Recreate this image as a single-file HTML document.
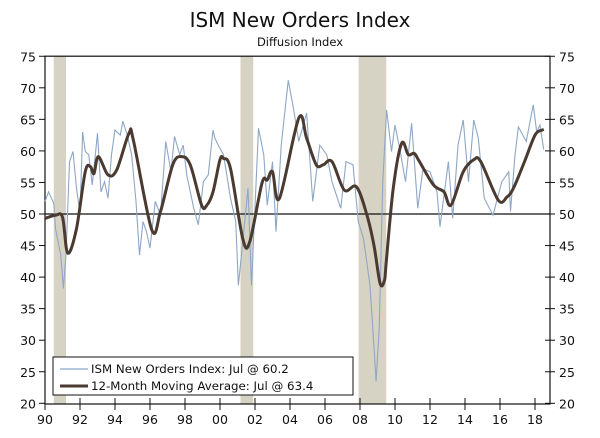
<!DOCTYPE html>
<html><head><meta charset="utf-8"><style>
body{margin:0;background:#fff;}
svg text{font-family:"DejaVu Sans","Liberation Sans",sans-serif;fill:#111;}
</style></head><body>
<svg id="chart" width="600" height="433" viewBox="0 0 600 433" xmlns="http://www.w3.org/2000/svg">
<text x="300" y="27" text-anchor="middle" style="font-size:20px">ISM New Orders Index</text>
<text x="300" y="46" text-anchor="middle" style="font-size:11.5px">Diffusion Index</text>
<g id="rec"></g>
<g id="grid"></g>
<g id="series"></g>
<g>
<rect x="53" y="357" width="300" height="38" fill="#fff" stroke="#111" stroke-width="1"/>
<line x1="60" y1="369" x2="88" y2="369" stroke="#8ea7c6" stroke-width="1.2"/>
<text x="91" y="373" style="font-size:11.8px">ISM New Orders Index: Jul @ 60.2</text>
<line x1="60" y1="386" x2="88" y2="386" stroke="#4a3a30" stroke-width="3"/>
<text x="91" y="390" style="font-size:11.8px">12-Month Moving Average: Jul @ 63.4</text>
</g>
</svg>
<script>
const recStarts=[1990.5,2001.17,2007.92];
const recEnds=[1991.2,2001.9,2009.5];
const yTicks=[20,25,30,35,40,45,50,55,60,65,70,75];
const xTickYears=[1990,1992,1994,1996,1998,2000,2002,2004,2006,2008,2010,2012,2014,2016,2018];
const xTickLabels=["90","92","94","96","98","00","02","04","06","08","10","12","14","16","18"];
const rawDates=[1990.0,1990.2,1990.5,1990.6,1990.9,1991.05,1991.2,1991.4,1991.6,1991.8,1992.0,1992.15,1992.3,1992.5,1992.7,1993.0,1993.2,1993.4,1993.6,1993.8,1994.0,1994.3,1994.45,1994.7,1994.95,1995.2,1995.4,1995.6,1995.8,1996.0,1996.3,1996.6,1996.9,1997.2,1997.4,1997.7,1997.9,1998.1,1998.5,1998.76,1999.05,1999.33,1999.6,1999.71,1999.9,2000.2,2000.6,2000.9,2001.05,2001.3,2001.6,2001.8,2002.2,2002.5,2002.7,2003.0,2003.2,2003.5,2003.9,2004.2,2004.5,2004.95,2005.3,2005.7,2006.1,2006.4,2006.9,2007.2,2007.6,2007.9,2008.2,2008.57,2008.75,2008.92,2009.1,2009.3,2009.52,2009.8,2010.0,2010.3,2010.6,2010.95,2011.3,2011.6,2012.0,2012.4,2012.57,2013.05,2013.3,2013.6,2013.9,2014.2,2014.5,2014.76,2015.1,2015.6,2016.1,2016.5,2016.6,2016.86,2017.05,2017.5,2017.9,2018.1,2018.28,2018.5];
const rawValues=[52,53.5,51.7,47.7,43.5,38.2,43.5,58.3,59.9,54.1,50,63,59.9,59.4,54.6,62.8,53.5,55.1,52.5,59.4,63.3,62.5,64.7,62.5,59.4,52,43.5,48.8,47.2,44.6,52,49.8,61.5,56.7,62.3,59.4,60.9,56.2,50.9,48.3,55.1,56.2,63.3,62,60.9,59.4,52.5,48.8,38.7,45.6,54.1,38.7,63.6,59.4,51.4,58.3,47.2,60.9,71.2,66.7,61.5,66,52,60.9,59.4,55.1,50.9,58.3,57.8,48.8,46.1,38.7,31,23.5,32,55,66.5,59.9,64.1,59.9,55.1,64.4,50.9,57.2,56.7,53.5,48,58.3,49.3,60.9,64.9,55.1,64.9,62,52.5,49.8,55.1,56.7,50.4,59.4,63.8,61.5,67.3,63,64.1,60.2];
const maDates=[1990.0,1990.6,1991.0,1991.3,1991.8,1992.3,1992.6,1992.8,1993.05,1993.6,1994.1,1994.8,1995.05,1996.1,1996.6,1997.3,1997.8,1998.3,1998.95,1999.25,1999.6,2000.0,2000.2,2000.6,2001.3,2001.7,2002.4,2002.7,2003.0,2003.4,2004.5,2004.95,2005.5,2005.9,2006.4,2007.1,2007.8,2008.4,2008.8,2009.15,2009.4,2009.5,2009.9,2010.38,2010.76,2011.1,2011.4,2012.2,2012.8,2013.2,2013.9,2014.5,2014.9,2015.9,2016.4,2016.77,2017.4,2018.0,2018.4,2018.5];
const maValues=[49.3,49.8,49.5,43.8,47.7,56.7,57.5,56.4,59.1,56.2,57,62.8,61.7,47.5,50.4,57.8,59.1,57.8,51.4,51.4,53.5,58.6,58.8,57.2,46.1,45.6,54.9,55.4,56.7,52.5,65.2,62,57.8,57.8,58.3,53.8,54.3,49.8,45,39,39.5,42.4,54.1,61.2,59.4,59.6,58.3,54.6,53.5,51.4,56.7,58.6,58.3,52.2,52.7,54.1,58.3,62.5,63.3,63.4];

const L=45,R=550,T=56.2,B=404;
const x=yr=>L+(yr-1990)*17.5;
const y=v=>214-(v-50)*6.31;
const NS="http://www.w3.org/2000/svg";
function mk(tag,attrs,parent){const e=document.createElementNS(NS,tag);for(const k in attrs)e.setAttribute(k,attrs[k]);parent.appendChild(e);return e;}
function smooth(pts){
 let d='M'+pts[0][0]+','+pts[0][1];
 for(let i=0;i<pts.length-1;i++){
  const p0=pts[i-1]||pts[i],p1=pts[i],p2=pts[i+1],p3=pts[i+2]||p2;
  const c1=[p1[0]+(p2[0]-p0[0])/6,p1[1]+(p2[1]-p0[1])/6];
  const c2=[p2[0]-(p3[0]-p1[0])/6,p2[1]-(p3[1]-p1[1])/6];
  d+=' C'+c1[0]+','+c1[1]+' '+c2[0]+','+c2[1]+' '+p2[0]+','+p2[1];
 }
 return d;
}
const rec=document.getElementById('rec'),grid=document.getElementById('grid'),ser=document.getElementById('series');
recStarts.forEach((s,i)=>{
 const r=mk('rect',{x:x(s),y:T,width:x(recEnds[i])-x(s),height:B-T,fill:'#d6d2c4'},rec);
 
 
});
mk('rect',{x:L,y:T,width:R-L,height:B-T,fill:'none',stroke:'#111','stroke-width':1.2},grid);
const zl=mk('line',{x1:L,x2:R,y1:y(50),y2:y(50),stroke:'#111','stroke-width':1.2},grid);


yTicks.forEach(v=>{
 mk('line',{x1:L-6,x2:L,y1:y(v),y2:y(v),stroke:'#111'},grid);
 mk('line',{x1:R-5,x2:R+5,y1:y(v),y2:y(v),stroke:'#111'},grid);
 const a=mk('text',{x:L-9,y:y(v)+5,'text-anchor':'end',style:'font-size:12.5px'},grid);a.textContent=v;
 
 
 const b=mk('text',{x:R+9,y:y(v)+5,style:'font-size:12.5px'},grid);b.textContent=v;
 
 
});
xTickYears.forEach((yr,i)=>{
 mk('line',{x1:x(yr),x2:x(yr),y1:B-6,y2:B+6,stroke:'#111'},grid);
 const t=mk('text',{x:x(yr),y:B+20,'text-anchor':'middle',style:'font-size:12.5px'},grid);t.textContent=xTickLabels[i];
 
 
});
const raw=mk('polyline',{points:rawDates.map((d,i)=>x(d)+','+y(rawValues[i])).join(' '),fill:'none',stroke:'#8ea7c6','stroke-width':1.1},ser);


const ma=mk('path',{d:smooth(maDates.map((d,i)=>[x(d),y(maValues[i])])),fill:'none',stroke:'#4a3a30','stroke-width':3,'stroke-linejoin':'round'},ser);


</script>
</body></html>
